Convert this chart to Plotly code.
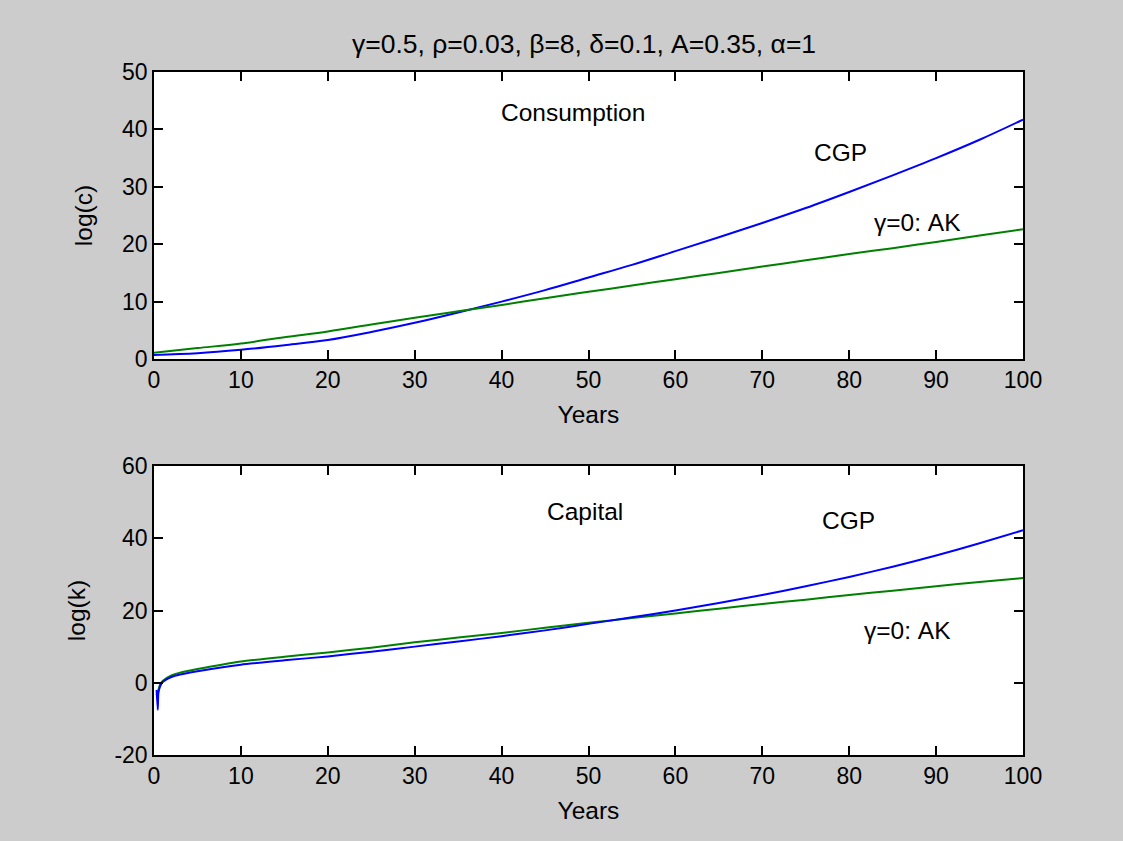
import plotly.graph_objects as go

# ---- data ----
t_c = [0, 5, 10, 15, 20, 25, 30, 35, 40, 45, 50, 55, 60, 65, 70, 75, 80, 85, 90, 95, 100]
c_cgp = [0.7, 1.0, 1.6, 2.4, 3.3, 4.7, 6.3, 8.1, 10.0, 12.0, 14.2, 16.4, 18.8, 21.2, 23.7, 26.3, 29.1, 32.0, 35.0, 38.2, 41.7]
c_ak = [1.1, 1.9, 2.7, 3.8, 4.8, 6.0, 7.2, 8.3, 9.4, 10.6, 11.7, 12.8, 13.9, 15.0, 16.1, 17.2, 18.3, 19.3, 20.4, 21.5, 22.6]

t_k_cgp = [0.3, 0.43, 0.5, 0.7, 1, 2, 3, 5, 10, 15, 20, 25, 30, 35, 40, 45, 50, 55, 60, 65, 70, 75, 80, 85, 90, 95, 100]
k_cgp = [-2.0, -7.5, -3.0, -1.0, 0.2, 1.6, 2.3, 3.2, 5.0, 6.2, 7.3, 8.6, 10.0, 11.4, 12.9, 14.5, 16.3, 18.1, 20.0, 22.1, 24.3, 26.7, 29.3, 32.1, 35.2, 38.6, 42.2]
t_k_ak = [0.3, 0.5, 0.7, 1, 2, 3, 5, 10, 15, 20, 25, 30, 35, 40, 45, 50, 55, 60, 65, 70, 75, 80, 85, 90, 95, 100]
k_ak = [-3.5, -2.0, -0.5, 0.5, 2.0, 2.8, 3.8, 5.9, 7.2, 8.4, 9.7, 11.2, 12.5, 13.8, 15.2, 16.6, 17.9, 19.2, 20.5, 21.8, 23.0, 24.3, 25.5, 26.7, 27.9, 29.0]

x_ticks = [0, 10, 20, 30, 40, 50, 60, 70, 80, 90, 100]
yc_ticks = [0, 10, 20, 30, 40, 50]
yk_ticks = [-20, 0, 20, 40, 60]
yk_ticktext = ["-20", "0", "20", "40", "60"]

title_text = "γ=0.5, ρ=0.03, β=8, δ=0.1, A=0.35, α=1"

BLUE = "#0000ff"
GREEN = "#008000"
FONT = "Liberation Sans, Arial, sans-serif"
FS = 23      # tick labels
FT = 24.5    # texts and axis titles

fig = go.Figure()
fig.add_trace(go.Scatter(x=t_c, y=c_cgp, mode="lines", line=dict(color=BLUE, width=2, shape="spline"),
                         xaxis="x", yaxis="y", name="CGP"))
fig.add_trace(go.Scatter(x=t_c, y=c_ak, mode="lines", line=dict(color=GREEN, width=2, shape="spline"),
                         xaxis="x", yaxis="y", name="AK"))
fig.add_trace(go.Scatter(x=t_k_ak, y=k_ak, mode="lines", line=dict(color=GREEN, width=2, shape="spline", smoothing=0.5),
                         xaxis="x2", yaxis="y2", name="AK"))
fig.add_trace(go.Scatter(x=t_k_cgp, y=k_cgp, mode="lines", line=dict(color=BLUE, width=2, shape="spline", smoothing=0.5),
                         xaxis="x2", yaxis="y2", name="CGP"))

W, H = 1123, 841
x0, x1 = 154 / W, 1023 / W
top_dom = [(H - 359) / H, (H - 72) / H]
bot_dom = [(H - 755) / H, (H - 466) / H]

axis_common = dict(showline=True, linecolor="black", linewidth=1.5, mirror="ticks",
                   ticks="inside", ticklen=9, tickwidth=1.5, tickcolor="black",
                   showgrid=False, zeroline=False, automargin=False,
                   tickfont=dict(family=FONT, size=FS, color="black"))

fig.update_layout(
    width=W, height=H,
    margin=dict(l=0, r=0, t=0, b=0, autoexpand=False),
    paper_bgcolor="#cccccc", plot_bgcolor="white",
    showlegend=False,
    font=dict(family=FONT, size=FT, color="black"),
    xaxis=dict(domain=[x0, x1], anchor="y", range=[0, 100], tickvals=x_ticks,
               title=dict(text="Years", standoff=14, font=dict(size=FT)), **axis_common),
    yaxis=dict(domain=top_dom, anchor="x", range=[0, 50], tickvals=yc_ticks,
               title=dict(text="log(c)", standoff=22, font=dict(size=FT)), **axis_common),
    xaxis2=dict(domain=[x0, x1], anchor="y2", range=[0, 100], tickvals=x_ticks,
                title=dict(text="Years", standoff=14, font=dict(size=FT)), **axis_common),
    yaxis2=dict(domain=bot_dom, anchor="x2", range=[-20, 60], tickvals=yk_ticks, ticktext=yk_ticktext,
                title=dict(text="log(k)", standoff=22, font=dict(size=FT)), **axis_common),
)

ann = [
    dict(text=title_text, xref="paper", yref="paper", x=584 / W, y=(H - 44) / H,
         xanchor="center", yanchor="middle", showarrow=False, font=dict(size=26.5)),
    dict(text="Consumption", xref="x", yref="y", x=39.7, y=43, xanchor="left", yanchor="middle", showarrow=False),
    dict(text="CGP", xref="x", yref="y", x=75.7, y=36, xanchor="left", yanchor="middle", showarrow=False),
    dict(text="γ=0: AK", xref="x", yref="y", x=82.6, y=23.7, xanchor="left", yanchor="middle", showarrow=False),
    dict(text="Capital", xref="x2", yref="y2", x=45, y=47.3, xanchor="left", yanchor="middle", showarrow=False),
    dict(text="CGP", xref="x2", yref="y2", x=76.6, y=44.8, xanchor="left", yanchor="middle", showarrow=False),
    dict(text="γ=0: AK", xref="x2", yref="y2", x=81.5, y=14.6, xanchor="left", yanchor="middle", showarrow=False),
]
fig.update_layout(annotations=ann)

fig.write_html("out.html")
